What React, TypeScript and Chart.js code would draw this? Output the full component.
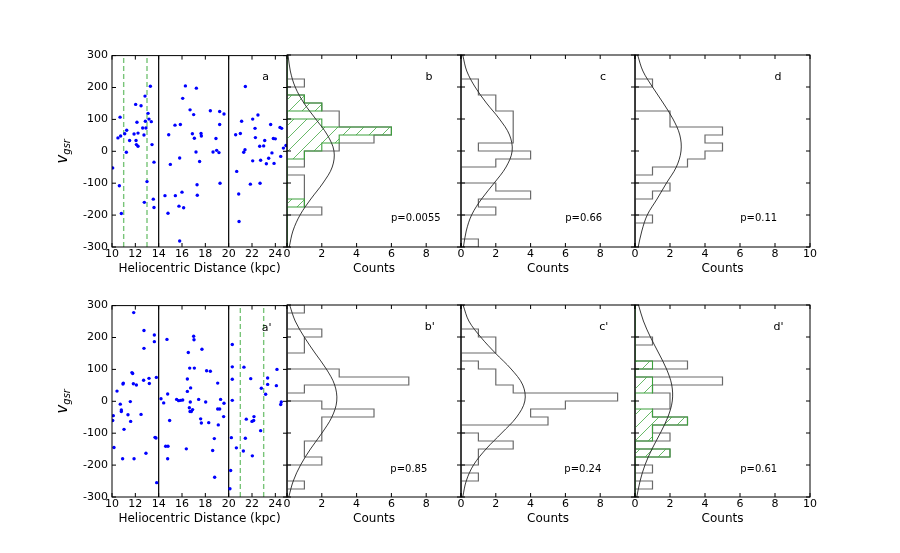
import { useEffect, useRef } from 'react';
import { Chart, registerables } from 'chart.js';

Chart.register(...registerables);

const FONT = "'DejaVu Sans', sans-serif";

// velocity bins (km/s), top edge of first bin down to bottom edge of last one
const binEdges = [300, 275, 250, 225, 200, 175, 150, 125, 100, 75, 50, 25, 0, -25, -50, -75, -100, -125, -150, -175, -200, -225, -250, -275, -300];
// velocities where the fitted gaussian is sampled
const fitVel = [300, 250, 200, 150, 100, 50, 0, -50, -100, -150, -200, -250, -300];

const velTicks = [-300, -200, -100, 0, 100, 200, 300];
const distTicks = [10, 12, 14, 16, 18, 20, 22, 24];
const countTicks = [0, 2, 4, 6, 8, 10];
const distBounds = [14, 20];
const selTop = [11, 13];
const selBottom = [21, 23];

// top row stars
const topDist = [
  10.06, 10.63, 10.69, 10.51, 10.74, 10.8, 11.09, 11.26, 11.23, 11.51, 11.89, 12.03, 12.06, 12.14, 12.09, 12.23, 12.23,
  12.49, 12.63, 12.74, 12.83, 12.86, 12.91, 13.0, 13.09, 13.17, 13.29, 13.37, 13.43, 13.54, 13.6, 13.6, 12.77,
  14.54, 14.8, 14.86, 15.0, 15.4, 15.43, 15.74, 15.8, 15.86, 15.8, 16.0, 16.06, 16.14, 16.29, 16.69, 16.89, 17.0, 17.06,
  17.2, 17.23, 17.29, 17.31, 17.51, 17.63, 17.66, 18.43, 18.66, 18.91, 18.97, 19.17, 19.23, 19.23, 19.26, 19.6,
  20.6, 20.69, 20.86, 20.89, 21.0, 21.11, 21.29, 21.43, 21.4, 21.86, 22.06, 22.06, 22.26, 22.29, 22.51, 22.66, 22.69,
  22.74, 23.0, 23.09, 23.23, 23.43, 23.6, 23.71, 23.83, 23.89, 24.0, 24.4, 24.54, 24.46, 24.69, 24.91,
];
const topVel = [
  -52, -108, 107, 42, 48, -195, 55, 66, -3, 34, 54, 147, 34, 91, 21, 57, 16,
  143, 73, 51, 173, 94, 73, -95, 119, 101, 204, 93, 21, -150, -34, -176, -160,
  -139, -194, 52, -41, 82, -139, -172, -21, 84, -281, -128, 166, -177, 205, 130, 55, 115, 41,
  -2, 198, -105, -138, -32, 56, 48, 127, -2, 40, 3, -4, 125, 84, -100, 117,
  52, -63, -134, -220, 56, 94, -3, 203, 5, -103, 101, -30, 72, 43, 114, 16, -100,
  -28, 17, 34, -39, -22, 84, -5, 40, -38, 39, 75, 72, -16, 10, 18,
];

// bottom row stars
const botDist = [
  10.06, 10.11, 10.17, 10.43, 10.71, 10.8, 10.8, 10.94, 10.97, 10.91, 11.03, 11.37, 11.57, 11.6, 11.71, 11.77, 11.83,
  11.89, 11.86, 12.09, 12.49, 12.71, 12.74, 12.74, 12.91, 13.17, 13.2, 13.63, 13.63, 13.69, 13.77, 13.8, 13.83,
  14.2, 14.43, 14.71, 14.77, 14.6, 14.8, 14.77, 14.94, 15.54, 15.71, 15.89, 16.06, 16.37, 16.46, 16.46, 16.54, 16.63,
  16.66, 16.69, 16.71, 16.74, 16.8, 16.91, 17.0, 17.03, 17.06, 17.43, 17.6, 17.66, 17.71, 18.03, 18.11, 18.29, 18.43,
  18.63, 18.77, 18.8, 19.06, 19.06, 19.11, 19.23, 19.31, 19.6, 19.57,
  20.11, 20.17, 20.23, 20.31, 20.31, 20.31, 20.31, 20.66, 21.26, 21.31, 21.51, 21.43, 21.89, 22.0, 22.03, 22.14, 22.17,
  22.74, 22.8, 23.17, 23.34, 23.34, 24.09, 24.14, 24.46, 24.51,
];
const botVel = [
  -60, -45, -145, 32, -9, -27, -32, 54, 57, -180, -88, -42, -1, -63, 90, 87, 55,
  -180, 278, 51, -41, 66, 222, 166, -163, 72, 56, 208, 187, -113, -115, 75, -255,
  8, -5, 194, 23, -141, -141, -180, -60, 6, 2, 3, 4, -149, 70, 31, 153, -20,
  104, -32, -2, 42, -32, -26, 204, 193, 104, 6, -55, -68, 163, -2, 96, -67, 94,
  -154, -117, -238, 57, -24, -74, -24, 6, -6, -48,
  -274, -217, -114, 178, 108, 69, 3, -146, -156, 107, -56, -116, 71, -63, -171, -60, -48,
  -92, 41, 22, 73, 53, 49, 100, -10, -2,
];

// histogram counts per bin (same order as binEdges)
const countsB = [0, 0, 0, 1, 0, 1, 2, 3, 3, 6, 5, 3, 1, 1, 0, 1, 1, 1, 1, 2, 0, 0, 0, 0];
const greenB = [0, 0, 0, 0, 0, 1, 2, 0, 2, 6, 3, 2, 1, 0, 0, 0, 0, 0, 1, 0, 0, 0, 0, 0];
const countsC = [0, 0, 0, 1, 1, 2, 2, 3, 3, 3, 3, 1, 4, 2, 0, 0, 2, 4, 1, 2, 0, 0, 0, 1];
const countsD = [0, 0, 0, 1, 0, 0, 0, 2, 2, 5, 4, 5, 4, 3, 1, 0, 2, 1, 0, 0, 1, 0, 0, 0];
const countsB2 = [1, 0, 0, 2, 1, 1, 0, 0, 3, 7, 1, 0, 2, 5, 2, 2, 2, 1, 1, 2, 0, 0, 1, 0];
const countsC2 = [0, 0, 0, 1, 2, 2, 0, 1, 2, 2, 3, 9, 6, 4, 5, 0, 1, 3, 1, 1, 0, 1, 0, 0];
const countsD2 = [0, 0, 0, 0, 1, 0, 0, 3, 0, 5, 1, 2, 2, 1, 3, 1, 2, 0, 2, 0, 1, 0, 1, 0];
const greenD2 = [0, 0, 0, 0, 0, 0, 0, 1, 0, 1, 1, 0, 0, 1, 3, 1, 1, 0, 2, 0, 0, 0, 0, 0];

// fitted gaussians (counts at fitVel)
const fitB = [0.06, 0.19, 0.47, 0.97, 1.65, 2.32, 2.7, 2.6, 2.07, 1.37, 0.75, 0.34, 0.13];
const fitC = [0.1, 0.33, 0.81, 1.46, 2.21, 2.79, 2.94, 2.59, 1.91, 1.18, 0.61, 0.3, 0.14];
const fitD = [0.15, 0.45, 1.0, 1.61, 2.17, 2.56, 2.63, 2.36, 1.8, 1.26, 0.7, 0.39, 0.18];
const fitB2 = [0.15, 0.47, 0.99, 1.61, 2.26, 2.74, 2.86, 2.58, 2.01, 1.35, 0.78, 0.36, 0.1];
const fitC2 = [0.12, 0.45, 1.13, 1.97, 2.88, 3.55, 3.67, 3.2, 2.34, 1.44, 0.72, 0.3, 0.1];
const fitD2 = [0.2, 0.48, 0.88, 1.35, 1.8, 2.1, 2.13, 1.88, 1.45, 0.97, 0.57, 0.29, 0.1];

// layout
const ROW_TOP = [55, 305];
const AREA_H = 192;
const COLS = [
  { left: 112, width: 175 },
  { left: 287, width: 174 },
  { left: 461, width: 174 },
  { left: 635, width: 175 },
];
const PAD_T = 10;
const PAD_R = 12;
const AXIS_H = 29;
const SCATTER_L = 60;
const HIST_L = 10;

type Note = { text: string; x: number; y: number; size: number };

function stepPoints(counts: number[]) {
  const pts = [{ x: 0, y: binEdges[binEdges.length - 1] }];
  for (let i = counts.length - 1; i >= 0; i--) pts.push({ x: counts[i], y: binEdges[i + 1] });
  pts.push({ x: 0, y: binEdges[0] });
  return pts;
}

function fitPoints(vals: number[]) {
  return fitVel.map((v, i) => ({ x: vals[i], y: v })).reverse();
}

function hatch(color: string) {
  const c = document.createElement('canvas');
  c.width = 13;
  c.height = 13;
  const g = c.getContext('2d')!;
  g.strokeStyle = color;
  g.lineWidth = 1;
  g.beginPath();
  g.moveTo(0, 13);
  g.lineTo(13, 0);
  g.moveTo(-6.5, 6.5);
  g.lineTo(6.5, -6.5);
  g.moveTo(6.5, 19.5);
  g.lineTo(19.5, 6.5);
  g.stroke();
  return g.createPattern(c, 'repeat')!;
}

function framePlugin(xTicks: number[], notes: Note[], yTitle: boolean) {
  return {
    id: 'frame',
    afterDraw(chart: any) {
      const { ctx, chartArea: a } = chart;
      const xs = chart.scales.x;
      const ys = chart.scales.y;
      ctx.save();
      ctx.strokeStyle = '#000';
      ctx.lineWidth = 1;
      ctx.strokeRect(a.left, a.top, a.width, a.height);
      ctx.beginPath();
      for (const t of xTicks) {
        const p = xs.getPixelForValue(t);
        ctx.moveTo(p, a.bottom);
        ctx.lineTo(p, a.bottom - 4);
        ctx.moveTo(p, a.top);
        ctx.lineTo(p, a.top + 4);
      }
      for (const t of velTicks) {
        const p = ys.getPixelForValue(t);
        ctx.moveTo(a.left, p);
        ctx.lineTo(a.left + 4, p);
        ctx.moveTo(a.right, p);
        ctx.lineTo(a.right - 4, p);
      }
      ctx.stroke();

      ctx.fillStyle = '#000';
      ctx.textAlign = 'center';
      ctx.textBaseline = 'middle';
      for (const n of notes) {
        ctx.font = `${n.size}px ${FONT}`;
        ctx.fillText(n.text, xs.getPixelForValue(n.x), ys.getPixelForValue(n.y));
      }

      if (yTitle) {
        ctx.translate(a.left - 50, (a.top + a.bottom) / 2);
        ctx.rotate(-Math.PI / 2);
        ctx.textAlign = 'left';
        ctx.textBaseline = 'alphabetic';
        ctx.font = `italic 15px ${FONT}`;
        const vw = ctx.measureText('v').width;
        ctx.font = `italic 10px ${FONT}`;
        const sw = ctx.measureText('gsr').width;
        const x0 = -(vw + sw) / 2;
        ctx.font = `italic 15px ${FONT}`;
        ctx.fillText('v', x0, 5);
        ctx.font = `italic 10px ${FONT}`;
        ctx.fillText('gsr', x0 + vw, 8);
      }
      ctx.restore();
    },
  };
}

const tickFont = { family: FONT, size: 11 };
const titleFont = { family: FONT, size: 12 };

function scatterConfig(dist: number[], vel: number[], sel: number[], note: Note): any {
  const lo = velTicks[0];
  const hi = velTicks[velTicks.length - 1];
  return {
    type: 'scatter',
    data: {
      datasets: [
        {
          data: dist.map((d, i) => ({ x: d, y: vel[i] })),
          pointRadius: 1.7,
          pointBackgroundColor: '#0000ff',
          pointBorderWidth: 0,
        },
        ...distBounds.map((b) => ({
          data: [{ x: b, y: lo }, { x: b, y: hi }],
          showLine: true,
          borderColor: '#000',
          borderWidth: 1.2,
          pointRadius: 0,
        })),
        ...sel.map((s) => ({
          data: [{ x: s, y: lo }, { x: s, y: hi }],
          showLine: true,
          borderColor: 'rgb(120,196,120)',
          borderWidth: 1.4,
          borderDash: [5, 3],
          pointRadius: 0,
        })),
      ],
    },
    options: {
      responsive: false,
      animation: false,
      layout: { padding: { top: PAD_T, right: PAD_R, left: 0, bottom: 0 } },
      plugins: { legend: { display: false }, tooltip: { enabled: false } },
      scales: {
        x: {
          type: 'linear',
          min: 10,
          max: 25,
          grid: { display: false, drawTicks: false },
          border: { display: false },
          ticks: { stepSize: 2, includeBounds: false, autoSkip: false, maxRotation: 0, padding: 1, color: '#000', font: tickFont },
          title: { display: true, text: 'Heliocentric Distance (kpc)', color: '#000', font: titleFont, padding: 0 },
          afterFit: (s: any) => {
            s.height = AXIS_H;
          },
        },
        y: {
          type: 'linear',
          min: lo,
          max: hi,
          grid: { display: false, drawTicks: false },
          border: { display: false },
          ticks: { stepSize: 100, padding: 4, color: '#000', font: tickFont },
          afterFit: (s: any) => {
            s.width = SCATTER_L;
          },
        },
      },
    },
    plugins: [framePlugin(distTicks, [note], true)],
  };
}

function histConfig(counts: number[], fit: number[], green: number[] | null, notes: Note[], showTen: boolean): any {
  const datasets: any[] = [
    {
      data: fitPoints(fit),
      borderColor: '#222',
      borderWidth: 0.9,
      tension: 0.35,
      pointRadius: 0,
      fill: false,
    },
  ];
  if (green) {
    datasets.push({
      data: stepPoints(green),
      stepped: 'after',
      borderColor: 'rgb(60,160,60)',
      borderWidth: 1.1,
      backgroundColor: hatch('rgb(105,185,105)'),
      fill: 'origin',
      pointRadius: 0,
    });
  }
  datasets.push({
    data: stepPoints(counts),
    stepped: 'after',
    borderColor: '#6a6a6a',
    borderWidth: 1.2,
    pointRadius: 0,
    fill: false,
  });
  return {
    type: 'line',
    data: { datasets },
    options: {
      responsive: false,
      animation: false,
      indexAxis: 'y',
      layout: { padding: { top: PAD_T, right: PAD_R, left: HIST_L, bottom: 0 } },
      plugins: { legend: { display: false }, tooltip: { enabled: false } },
      scales: {
        x: {
          type: 'linear',
          min: 0,
          max: 10,
          grid: { display: false, drawTicks: false },
          border: { display: false },
          ticks: {
            stepSize: 2,
            autoSkip: false,
            maxRotation: 0,
            padding: 1,
            color: '#000',
            font: tickFont,
            callback: (v: number) => (v === 10 && !showTen ? '' : String(v)),
          },
          title: { display: true, text: 'Counts', color: '#000', font: titleFont, padding: 0 },
          afterFit: (s: any) => {
            s.height = AXIS_H;
          },
        },
        y: {
          type: 'linear',
          min: velTicks[0],
          max: velTicks[velTicks.length - 1],
          display: false,
        },
      },
    },
    plugins: [framePlugin(countTicks, notes, false)],
  };
}

type PanelDef = { row: number; col: number; make: () => any };

const panels: PanelDef[] = [
  { row: 0, col: 0, make: () => scatterConfig(topDist, topVel, selTop, { text: 'a', x: 23.17, y: 232, size: 11 }) },
  {
    row: 0,
    col: 1,
    make: () =>
      histConfig(countsB, fitB, greenB, [
        { text: 'b', x: 8.16, y: 232, size: 11 },
        { text: 'p=0.0055', x: 7.4, y: -210, size: 10 },
      ], false),
  },
  {
    row: 0,
    col: 2,
    make: () =>
      histConfig(countsC, fitC, null, [
        { text: 'c', x: 8.16, y: 232, size: 11 },
        { text: 'p=0.66', x: 7.05, y: -210, size: 10 },
      ], false),
  },
  {
    row: 0,
    col: 3,
    make: () =>
      histConfig(countsD, fitD, null, [
        { text: 'd', x: 8.17, y: 232, size: 11 },
        { text: 'p=0.11', x: 7.07, y: -210, size: 10 },
      ], true),
  },
  { row: 1, col: 0, make: () => scatterConfig(botDist, botVel, selBottom, { text: "a'", x: 23.26, y: 230, size: 11 }) },
  {
    row: 1,
    col: 1,
    make: () =>
      histConfig(countsB2, fitB2, null, [
        { text: "b'", x: 8.2, y: 230, size: 11 },
        { text: 'p=0.85', x: 7.0, y: -213, size: 10 },
      ], false),
  },
  {
    row: 1,
    col: 2,
    make: () =>
      histConfig(countsC2, fitC2, null, [
        { text: "c'", x: 8.2, y: 230, size: 11 },
        { text: 'p=0.24', x: 7.0, y: -213, size: 10 },
      ], false),
  },
  {
    row: 1,
    col: 3,
    make: () =>
      histConfig(countsD2, fitD2, greenD2, [
        { text: "d'", x: 8.2, y: 230, size: 11 },
        { text: 'p=0.61', x: 7.07, y: -213, size: 10 },
      ], true),
  },
];

function Panel({ def }: { def: PanelDef }) {
  const canvasRef = useRef<HTMLCanvasElement>(null);
  const col = COLS[def.col];
  const padL = def.col === 0 ? SCATTER_L : HIST_L;
  const left = col.left - padL;
  const top = ROW_TOP[def.row] - PAD_T;
  const width = padL + col.width + PAD_R;
  const height = PAD_T + AREA_H + AXIS_H;

  useEffect(() => {
    if (!canvasRef.current) return;
    const chart = new Chart(canvasRef.current, def.make());
    return () => {
      chart.destroy();
    };
  }, [def]);

  return (
    <canvas
      ref={canvasRef}
      width={width}
      height={height}
      style={{ position: 'absolute', left, top, width, height }}
    />
  );
}

export default function App() {
  return (
    <div style={{ position: 'absolute', left: 0, top: 0, width: 900, height: 553, background: '#fff' }}>
      {panels.map((p) => (
        <Panel key={`${p.row}-${p.col}`} def={p} />
      ))}
    </div>
  );
}
